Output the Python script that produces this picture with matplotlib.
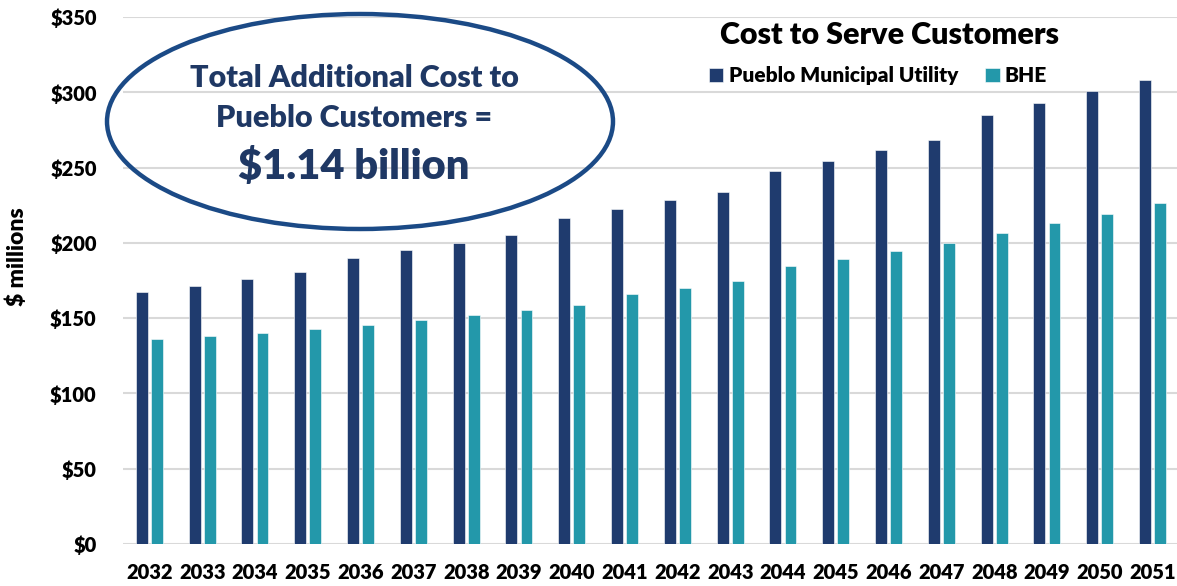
import matplotlib
matplotlib.use("Agg")
import matplotlib.pyplot as plt
from matplotlib.patches import Ellipse
import numpy as np

plt.rcParams['font.family'] = ['Lato', 'DejaVu Sans']
plt.rcParams['font.weight'] = 'heavy'

years = [str(y) for y in range(2032, 2052)]
pmu = [167.3, 171.5, 176.0, 180.6, 189.9, 195.0, 199.9, 205.0, 216.7, 222.2,
       228.2, 234.1, 248.0, 254.6, 261.5, 268.4, 285.1, 292.7, 300.7, 308.3]
bhe = [135.9, 137.9, 140.3, 142.8, 145.2, 148.9, 151.9, 155.2, 158.5, 165.8,
       170.0, 174.5, 184.3, 189.1, 194.7, 200.2, 206.5, 212.9, 219.4, 226.5]
yticks = [0, 50, 100, 150, 200, 250, 300, 350]

dark = '#1F3B6E'
teal = '#2398AA'
navy_txt = '#1F3864'
wt = 'heavy'

W, H = 1177, 586
fig = plt.figure(figsize=(W / 100, H / 100), dpi=100)
ax = fig.add_axes([123 / W, (H - 544) / H, 1056 / W, 527 / H])

x = np.arange(len(years))
bw = 0.227
ax.bar(x - 0.144, pmu, bw, color=dark, edgecolor='white', linewidth=0.4, zorder=3,
       label='Pueblo Municipal Utility')
ax.bar(x + 0.142, bhe, bw, color=teal, edgecolor='white', linewidth=0.4, zorder=3,
       label='BHE')

ax.set_xlim(-0.5, 19.5)
ax.set_ylim(0, 350)
ax.set_yticks(yticks)
ax.set_yticklabels([f'${v}' for v in yticks], fontweight=wt)
ax.set_xticks(x)
ax.set_xticklabels(years, fontweight=wt)
ax.tick_params(axis='both', length=0, labelsize=14.5)
ax.tick_params(axis='y', pad=19)
ax.tick_params(axis='x', pad=14)
ax.grid(axis='y', color='#D9D9D9', linewidth=1.5, zorder=0)
for s in ax.spines.values():
    s.set_visible(False)

fig.text(17 / W, 1 - 257 / H, '$ millions', rotation=90, ha='center', va='center',
         fontsize=16.5, fontweight=wt)

# chart title + legend
fig.text(889 / W, 1 - 35 / H, 'Cost to Serve Customers', ha='center', va='center',
         fontsize=22, fontweight=wt)
ax.legend(loc='center', bbox_to_anchor=(878 / W, 1 - 76 / H), bbox_transform=fig.transFigure,
          ncol=2, frameon=False, prop={'size': 15, 'weight': wt}, handlelength=0.7,
          handleheight=0.7, handletextpad=0.25, columnspacing=1.3)

# callout
ell = Ellipse((360 / W, 1 - 121.5 / H), 506 / W, 215 / H, transform=fig.transFigure,
              fill=False, edgecolor='#1B4A86', linewidth=3.2)
fig.add_artist(ell)
fig.text(354 / W, 1 - 78 / H, 'Total Additional Cost to', ha='center', va='center',
         fontsize=22, color=navy_txt, fontweight=wt)
fig.text(354 / W, 1 - 118 / H, 'Pueblo Customers =', ha='center', va='center',
         fontsize=22, color=navy_txt, fontweight=wt)
fig.text(354 / W, 1 - 166 / H, '$1.14 billion', ha='center', va='center',
         fontsize=30, color=navy_txt, fontweight=wt)

fig.savefig('out.png', dpi=100)
